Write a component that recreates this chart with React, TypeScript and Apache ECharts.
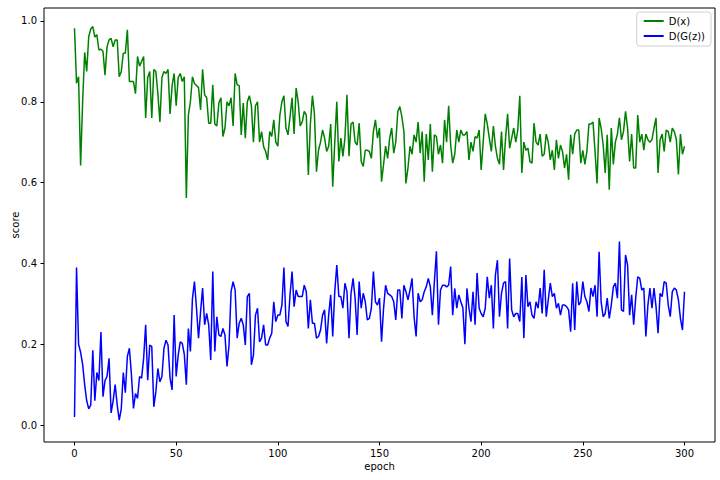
import React, { useEffect, useRef } from "react";
import * as echarts from "echarts";

const dx: number[] = [
  0.982, 0.846, 0.862, 0.642, 0.80, 0.922, 0.875, 0.961, 0.98, 0.986,
  0.96, 0.966, 0.928, 0.93, 0.925, 0.866, 0.936, 0.953, 0.957, 0.936,
  0.953, 0.953, 0.862, 0.875, 0.92, 0.92, 0.978, 0.85, 0.85, 0.85,
  0.82, 0.912, 0.888, 0.90, 0.912, 0.76, 0.86, 0.875, 0.76, 0.88,
  0.875, 0.82, 0.75, 0.86, 0.875, 0.87, 0.88, 0.77, 0.84, 0.87,
  0.79, 0.86, 0.87, 0.85, 0.862, 0.562, 0.767, 0.80, 0.862, 0.845,
  0.84, 0.835, 0.78, 0.88, 0.817, 0.81, 0.747, 0.747, 0.842, 0.745,
  0.74, 0.797, 0.81, 0.714, 0.735, 0.80, 0.79, 0.81, 0.74, 0.87,
  0.842, 0.84, 0.718, 0.797, 0.71, 0.80, 0.815, 0.79, 0.70, 0.79,
  0.80, 0.70, 0.726, 0.689, 0.677, 0.656, 0.726, 0.714, 0.755, 0.70,
  0.69, 0.767, 0.80, 0.815, 0.735, 0.718, 0.763, 0.81, 0.72, 0.834,
  0.80, 0.74, 0.75, 0.776, 0.767, 0.619, 0.745, 0.815, 0.77, 0.627,
  0.68, 0.70, 0.73, 0.71, 0.677, 0.69, 0.745, 0.59, 0.70, 0.80,
  0.652, 0.71, 0.665, 0.71, 0.817, 0.665, 0.745, 0.75, 0.70, 0.693,
  0.747, 0.652, 0.64, 0.68, 0.68, 0.677, 0.66, 0.726, 0.755, 0.71,
  0.735, 0.602, 0.645, 0.69, 0.66, 0.71, 0.735, 0.673, 0.70, 0.776,
  0.788, 0.763, 0.726, 0.598, 0.636, 0.69, 0.67, 0.718, 0.70, 0.75,
  0.673, 0.726, 0.602, 0.72, 0.656, 0.745, 0.627, 0.718, 0.714, 0.67,
  0.693, 0.648, 0.755, 0.70, 0.79, 0.693, 0.648, 0.67, 0.73, 0.70,
  0.73, 0.718, 0.718, 0.726, 0.656, 0.70, 0.677, 0.714, 0.71, 0.73,
  0.631, 0.70, 0.77, 0.745, 0.71, 0.677, 0.74, 0.69, 0.66, 0.645,
  0.726, 0.631, 0.71, 0.77, 0.685, 0.71, 0.735, 0.70, 0.73, 0.815,
  0.624, 0.70, 0.68, 0.685, 0.652, 0.648, 0.747, 0.70, 0.693, 0.72,
  0.665, 0.67, 0.72, 0.70, 0.656, 0.68, 0.631, 0.706, 0.66, 0.693,
  0.677, 0.636, 0.67, 0.607, 0.718, 0.67, 0.72, 0.73, 0.73, 0.648,
  0.68, 0.645, 0.677, 0.745, 0.745, 0.75, 0.677, 0.598, 0.76, 0.735,
  0.693, 0.624, 0.718, 0.582, 0.735, 0.645, 0.70, 0.72, 0.76, 0.706,
  0.726, 0.776, 0.735, 0.652, 0.72, 0.636, 0.636, 0.767, 0.70, 0.72,
  0.68, 0.72, 0.706, 0.70, 0.706, 0.735, 0.76, 0.624, 0.706, 0.72,
  0.677, 0.73, 0.726, 0.70, 0.735, 0.726, 0.706, 0.62, 0.72, 0.67,
  0.69,
];

const dgz: number[] = [
  0.02, 0.39, 0.20, 0.18, 0.15, 0.10, 0.06, 0.04, 0.05, 0.185,
  0.06, 0.13, 0.11, 0.23, 0.07, 0.11, 0.12, 0.165, 0.03, 0.06,
  0.10, 0.05, 0.012, 0.04, 0.13, 0.08, 0.17, 0.19, 0.124, 0.041,
  0.078, 0.066, 0.12, 0.116, 0.165, 0.248, 0.111, 0.198, 0.194, 0.045,
  0.082, 0.14, 0.107, 0.12, 0.19, 0.21, 0.198, 0.116, 0.087, 0.272,
  0.12, 0.173, 0.206, 0.202, 0.175, 0.10, 0.239, 0.182, 0.313, 0.355,
  0.289, 0.215, 0.28, 0.339, 0.248, 0.276, 0.248, 0.161, 0.38, 0.182,
  0.268, 0.223, 0.219, 0.239, 0.223, 0.145, 0.198, 0.33, 0.355, 0.334,
  0.215, 0.252, 0.264, 0.248, 0.198, 0.318, 0.326, 0.149, 0.173, 0.272,
  0.289, 0.206, 0.215, 0.248, 0.198, 0.198, 0.215, 0.227, 0.305, 0.256,
  0.272, 0.272, 0.297, 0.39, 0.256, 0.244, 0.322, 0.38, 0.293, 0.334,
  0.318, 0.318, 0.318, 0.346, 0.33, 0.239, 0.31, 0.252, 0.252, 0.215,
  0.219, 0.235, 0.272, 0.285, 0.202, 0.272, 0.322, 0.219, 0.33, 0.396,
  0.318, 0.318, 0.289, 0.351, 0.33, 0.215, 0.326, 0.363, 0.314, 0.223,
  0.355, 0.289, 0.326, 0.305, 0.26, 0.264, 0.289, 0.38, 0.305, 0.297,
  0.314, 0.206, 0.289, 0.346, 0.326, 0.322, 0.318, 0.305, 0.26, 0.334,
  0.334, 0.264, 0.346, 0.33, 0.31, 0.334, 0.363, 0.268, 0.219, 0.326,
  0.305, 0.31, 0.33, 0.342, 0.363, 0.342, 0.272, 0.355, 0.43, 0.248,
  0.334, 0.346, 0.346, 0.342, 0.346, 0.392, 0.272, 0.338, 0.289, 0.322,
  0.305, 0.29, 0.2, 0.338, 0.289, 0.256, 0.33, 0.248, 0.376, 0.289,
  0.276, 0.268, 0.289, 0.367, 0.314, 0.346, 0.239, 0.371, 0.408, 0.268,
  0.326, 0.351, 0.355, 0.239, 0.412, 0.285, 0.268, 0.276, 0.276, 0.256,
  0.366, 0.215, 0.371, 0.293, 0.305, 0.272, 0.264, 0.305, 0.289, 0.339,
  0.276, 0.384, 0.268, 0.31, 0.351, 0.318, 0.326, 0.289, 0.301, 0.272,
  0.297, 0.297, 0.293, 0.285, 0.231, 0.351, 0.235, 0.355, 0.297, 0.305,
  0.355, 0.318, 0.305, 0.281, 0.339, 0.318, 0.346, 0.268, 0.429, 0.305,
  0.268, 0.276, 0.314, 0.264, 0.297, 0.342, 0.351, 0.314, 0.454, 0.285,
  0.281, 0.421, 0.396, 0.272, 0.322, 0.248, 0.314, 0.367, 0.363, 0.334,
  0.339, 0.219, 0.297, 0.339, 0.289, 0.339, 0.293, 0.227, 0.326, 0.318,
  0.355, 0.351, 0.297, 0.268, 0.33, 0.339, 0.334, 0.31, 0.264, 0.235,
  0.33,
];

const xTicks: number[] = [0, 50, 100, 150, 200, 250, 300];
const yTicks: number[] = [0, 0.2, 0.4, 0.6, 0.8, 1.0];
const seriesNames: string[] = ["D(x)", "D(G(z))"];

const FONT = "DejaVu Sans";

export default function App() {
  const ref = useRef<HTMLDivElement>(null);
  useEffect(() => {
    if (!ref.current) return;
    const chart = echarts.init(ref.current, undefined, { renderer: "svg" });
    const toPairs = (arr: number[]) => arr.map((v, i) => [i, v]);
    chart.setOption({
      animation: false,
      backgroundColor: "#ffffff",
      textStyle: { fontFamily: FONT },
      grid: {
        left: 44,
        right: 5,
        top: 8,
        bottom: 38,
        containLabel: false,
        outerBoundsMode: "none",
        show: true,
        borderColor: "#000",
        borderWidth: 1,
        backgroundColor: "transparent",
      },
      legend: {
        orient: "vertical",
        right: 9,
        top: 12,
        data: seriesNames.map((n) => ({ name: n, icon: "rect" })),
        itemWidth: 20,
        itemHeight: 2,
        itemGap: 5,
        padding: [4, 6, 5, 7],
        borderColor: "#d0d0d0",
        borderWidth: 1,
        borderRadius: 3,
        backgroundColor: "rgba(255,255,255,0.8)",
        textStyle: { fontFamily: FONT, fontSize: 10, color: "#000" },
      },
      xAxis: {
        type: "value",
        position: "bottom",
        min: -15,
        max: 315,
        name: "epoch",
        nameLocation: "middle",
        nameGap: 19,
        nameMoveOverlap: false,
        nameTextStyle: { fontFamily: FONT, fontSize: 10, color: "#000" },
        axisLine: { show: false, onZero: false },
        splitLine: { show: false },
        axisTick: {
          show: true,
          length: 3.5,
          lineStyle: { color: "#000" },
          customValues: xTicks,
        },
        axisLabel: {
          customValues: xTicks,
          fontFamily: FONT,
          fontSize: 10,
          color: "#000",
          margin: 6,
        },
      },
      yAxis: {
        type: "value",
        position: "left",
        min: -0.042,
        max: 1.032,
        name: "score",
        nameLocation: "middle",
        nameGap: 24,
        nameMoveOverlap: false,
        nameTextStyle: { fontFamily: FONT, fontSize: 10, color: "#000" },
        axisLine: { show: false, onZero: false },
        splitLine: { show: false },
        axisTick: {
          show: true,
          length: 3.5,
          lineStyle: { color: "#000" },
          customValues: yTicks,
        },
        axisLabel: {
          customValues: yTicks,
          fontFamily: FONT,
          fontSize: 10,
          color: "#000",
          margin: 7,
          formatter: (v: number) => v.toFixed(1),
        },
      },
      series: [
        {
          name: seriesNames[0],
          type: "line",
          data: toPairs(dx),
          showSymbol: false,
          symbol: "none",
          color: "#008000",
          lineStyle: { color: "#008000", width: 1.5 },
        },
        {
          name: seriesNames[1],
          type: "line",
          data: toPairs(dgz),
          showSymbol: false,
          symbol: "none",
          color: "#0000ff",
          lineStyle: { color: "#0000ff", width: 1.5 },
        },
      ],
    });
    return () => chart.dispose();
  }, []);
  return (
    <div
      ref={ref}
      style={{ position: "fixed", left: 0, top: 0, width: 720, height: 480 }}
    />
  );
}
